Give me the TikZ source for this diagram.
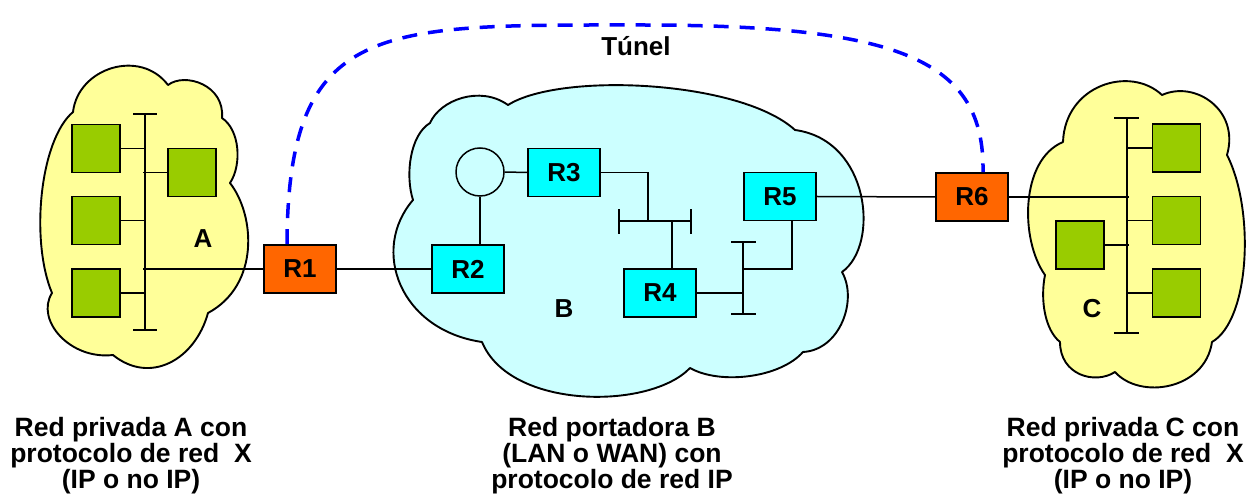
\documentclass[tikz,border=0pt]{standalone}
\usepackage{fontspec}
\setmainfont{Liberation Sans}
\definecolor{cloudY}{HTML}{FFFF99}
\definecolor{cloudB}{HTML}{CCFFFF}
\definecolor{hostG}{HTML}{99CC00}
\definecolor{routO}{HTML}{FF6600}
\definecolor{routC}{HTML}{00FFFF}
\definecolor{tunB}{HTML}{0000FF}
\tikzset{
  cloudline/.style={draw=black, line width=1.9pt, line join=round},
  box/.style={draw=black, line width=1.8pt, minimum width=72pt, minimum height=48pt, inner sep=0pt,
     font=\fontsize{26}{27}\selectfont\bfseries},
  orbox/.style={box, fill=routO},
  cybox/.style={box, fill=routC},
  host/.style={draw=black, line width=1.8pt, fill=hostG, minimum width=48pt, minimum height=48pt, inner sep=0pt},
  wire/.style={draw=black, line width=1.5pt},
  lbl/.style={font=\fontsize{26}{27}\selectfont\bfseries, inner sep=0pt},
  caption/.style={font=\fontsize{26.5}{26}\selectfont\bfseries, align=center, inner sep=0pt},
  tunnel/.style={draw=tunB, line width=3.5pt, dash pattern=on 15pt off 11pt}
}
\begin{document}
\begin{tikzpicture}[x=1pt,y=-1pt]
\useasboundingbox (0,0) rectangle (1251,502);
% ---------- clouds ----------
\path[cloudline, fill=cloudY]
 (73,112) .. controls (78,68) and (140,48) .. (168,85)
 .. controls (185,72) and (225,85) .. (222,118)
 .. controls (240,130) and (242,165) .. (230,183)
 .. controls (255,215) and (260,285) .. (208,313)
 .. controls (195,360) and (150,385) .. (113,355)
 .. controls (70,360) and (35,320) .. (52,293)
 .. controls (30,240) and (40,140) .. (73,112) -- cycle;
\path[cloudline, fill=cloudB]
 (430,123) .. controls (440,100) and (480,85) .. (508,105)
 .. controls (560,72) and (740,80) .. (795,130)
 .. controls (870,140) and (880,245) .. (842,272)
 .. controls (858,300) and (840,350) .. (803,352)
 .. controls (780,378) and (720,385) .. (690,368)
 .. controls (650,410) and (510,410) .. (482,342)
 .. controls (400,330) and (370,250) .. (413,200)
 .. controls (405,175) and (410,135) .. (430,123) -- cycle;
\path[cloudline, fill=cloudY]
 (1063,142) .. controls (1065,85) and (1130,65) .. (1162,95)
 .. controls (1195,80) and (1240,110) .. (1227,155)
 .. controls (1255,210) and (1250,320) .. (1212,342)
 .. controls (1205,390) and (1140,400) .. (1115,372)
 .. controls (1095,385) and (1060,375) .. (1060,342)
 .. controls (1045,330) and (1040,300) .. (1045,275)
 .. controls (1020,240) and (1020,160) .. (1063,142) -- cycle;
% ---------- network A ----------
\coordinate (Atop) at (145,114);
\coordinate (Abot) at (145,330);
\draw[wire] (Atop) -- (Abot);
\draw[wire] ([xshift=-12pt]Atop) -- ([xshift=12pt]Atop);
\draw[wire] ([xshift=-12pt]Abot) -- ([xshift=12pt]Abot);
\node[host] (a1) at (96,148.5) {};
\node[host] (a2) at (96,220.5) {};
\node[host] (a3) at (96,293) {};
\node[host] (a4) at (192,172.5) {};
\draw[wire] (a1.east) -- (a1.east -| Atop);
\draw[wire] (a2.east) -- (a2.east -| Atop);
\draw[wire] (a3.east) -- (a3.east -| Atop);
\draw[wire] (a4.west) -- ([xshift=-2pt]a4.west -| Atop);
\node[lbl] (labA) at (203,239) {A};
% ---------- routers ----------
\node[orbox] (R1) at (300,269) {R1};
\node[cybox] (R2) at (468,269) {R2};
\node[cybox] (R3) at (564,172.5) {R3};
\node[cybox] (R4) at (660,293) {R4};
\node[cybox] (R5) at (780,196.5) {R5};
\node[orbox] (R6) at (972,197) {R6};
\node[draw=black, line width=1.5pt, circle, minimum size=48pt, inner sep=0pt] (ring) at (480,172) {};
\node[lbl] (labB) at (564,309) {B};
% A bus to R1
\draw[wire] (R1.west) -- ([xshift=-2pt]R1.west -| Atop);
\draw[wire] (R1.east) -- (R2.west);
\draw[wire] (ring.south) -- (ring.south |- R2.north);
\draw[wire] (ring.east) -- (R3.west);
% bus 1 (horizontal)
\coordinate (b1l) at (619,221);
\coordinate (b1r) at (691,221);
\draw[wire] (b1l) -- (b1r);
\draw[wire] ([yshift=-13pt]b1l) -- ([yshift=12pt]b1l);
\draw[wire] ([yshift=-13pt]b1r) -- ([yshift=12pt]b1r);
\coordinate (j1) at (648,221);
\coordinate (j2) at (672,221);
\draw[wire] (R3.east) -| (j1);
\draw[wire] (j2) -- (j2 |- R4.north);
% bus 2 (vertical)
\coordinate (b2t) at (743,242);
\coordinate (b2b) at (743,314);
\draw[wire] (b2t) -- (b2b);
\draw[wire] ([xshift=-12pt]b2t) -- ([xshift=13pt]b2t);
\draw[wire] ([xshift=-12pt]b2b) -- ([xshift=13pt]b2b);
\draw[wire] (R4.east) -- (R4.east -| b2t);
\coordinate (j3) at (743,269);
\draw[wire] (j3) -| ([xshift=12pt]R5.south);
\draw[wire] (R5.east) -- (R6.west);
% ---------- network C ----------
\coordinate (Ctop) at (1127,118);
\coordinate (Cbot) at (1127,333);
\draw[wire] (Ctop) -- (Cbot);
\draw[wire] ([xshift=-13pt]Ctop) -- ([xshift=12pt]Ctop);
\draw[wire] ([xshift=-13pt]Cbot) -- ([xshift=12pt]Cbot);
\node[host] (c1) at (1176.5,148) {};
\node[host] (c2) at (1176.5,220.5) {};
\node[host] (c3) at (1176.5,293) {};
\node[host] (c4) at (1080,245) {};
\draw[wire] (c1.west) -- (c1.west -| Ctop);
\draw[wire] (c2.west) -- (c2.west -| Ctop);
\draw[wire] (c3.west) -- (c3.west -| Ctop);
\draw[wire] (c4.east) -- ([xshift=2pt]c4.east -| Ctop);
\draw[wire] (R6.east) -- ([xshift=2pt]R6.east -| Ctop);
\node[lbl] (labC) at (1092,309) {C};
% ---------- tunnel ----------
\draw[tunnel] ([xshift=-13pt]R1.north) .. controls (288,20) and (380,25) .. (640,25)
   .. controls (900,25) and (985,60) .. ([xshift=11pt]R6.north);
\node[lbl] (tun) at (636,46) {Túnel};
% ---------- captions ----------
\node[caption] (capA) at (131,456) {Red privada A con\\protocolo de red\ \ X\\(IP o no IP)};
\node[caption] (capB) at (612,456) {Red portadora B\\(LAN o WAN) con\\protocolo de red IP};
\node[caption] (capC) at (1123,456) {Red privada C con\\protocolo de red\ \ X\\(IP o no IP)};
\end{tikzpicture}
\end{document}
